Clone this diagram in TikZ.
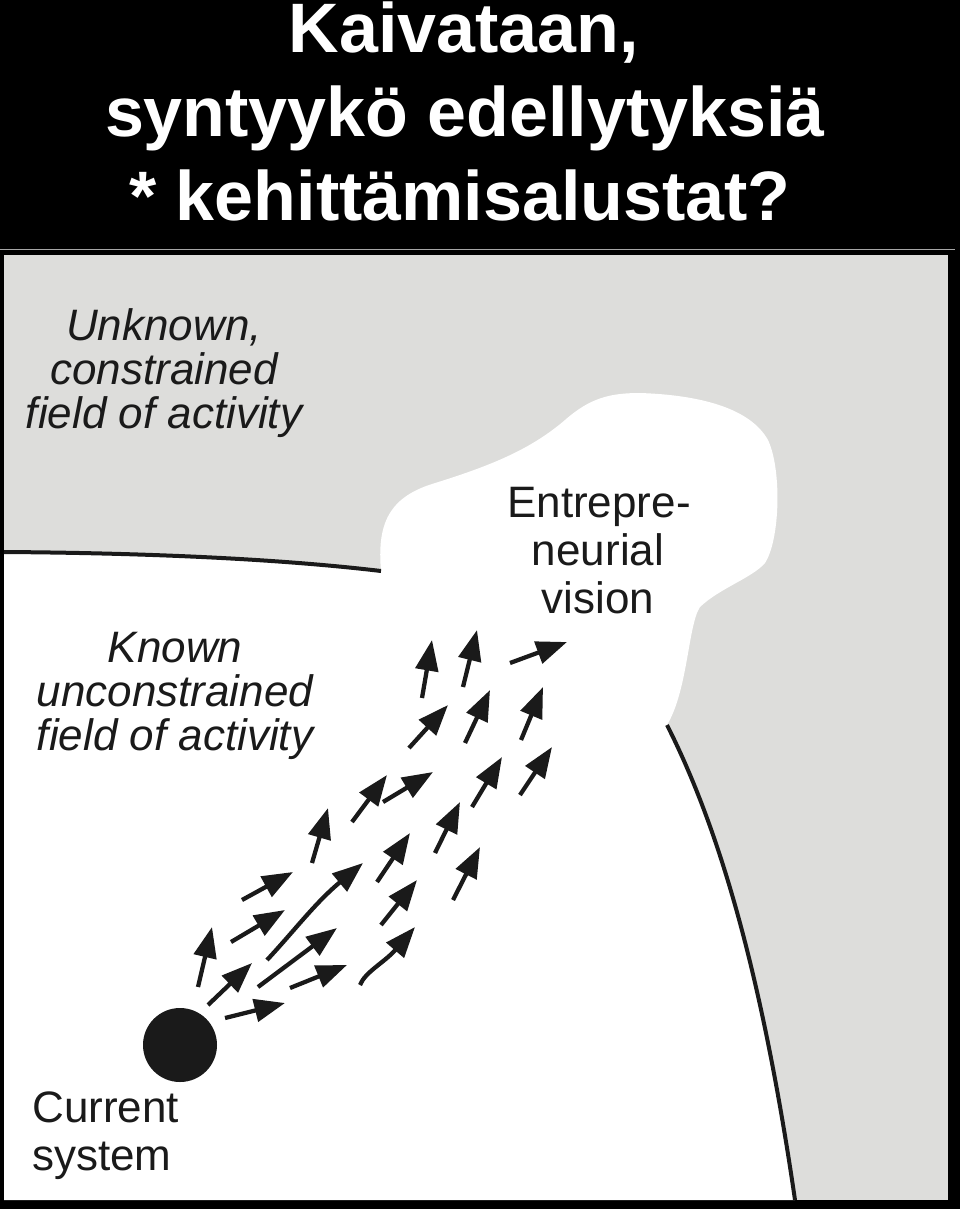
\documentclass[tikz,border=0pt]{standalone}
\usepackage{fontspec}
\setmainfont{Liberation Sans}
\usetikzlibrary{arrows.meta}
\definecolor{panelgray}{RGB}{221,221,219}
\definecolor{ink}{RGB}{26,26,26}
\begin{document}
\begin{tikzpicture}[x=0.75pt,y=-0.75pt,
  arr/.style={line width=3.2pt, draw=ink, -{Triangle[length=23pt 0,width=17pt 0]}},
  bound/.style={line width=3pt, draw=ink},
  lbl/.style={anchor=base, inner sep=0pt, text=ink, font=\fontsize{33}{33}\selectfont},
  ilbl/.style={anchor=base, inner sep=0pt, text=ink, font=\fontsize{33}{33}\selectfont\itshape},
  ttl/.style={anchor=base, inner sep=0pt, text=white, font=\fontsize{52.5}{52.5}\selectfont\bfseries}]
\useasboundingbox (0,0) rectangle (960,1209);
\fill[black] (0,0) rectangle (960,1209);
\draw[gray!70, line width=0.75pt] (0,249) -- (955,249);
\fill[panelgray] (4,255) rectangle (948,1200);
% known field + vision blob
\fill[white] (4,552) .. controls (150,553) and (280,559) .. (381,571)
  .. controls (377,525) and (388,498) .. (432,484)
  .. controls (490,466) and (530,450) .. (565,420)
  .. controls (590,398) and (610,393) .. (640,393)
  .. controls (700,395) and (750,408) .. (768,440)
  .. controls (782,470) and (780,540) .. (765,563)
  .. controls (752,578) and (720,588) .. (700,607)
  .. controls (688,625) and (688,690) .. (667,725)
  .. controls (715,820) and (760,960) .. (795,1200) -- (4,1200) -- cycle;
\coordinate (bl1) at (4,552);
\coordinate (bl2) at (381,571);
\coordinate (br1) at (667,725);
\coordinate (br2) at (795,1200);
\draw[bound] (bl1) .. controls (150,553) and (280,559) .. (bl2);
\draw[bound] (br1) .. controls (715,820) and (760,960) .. (br2);
% title
\node[ttl] (t1) at (464,53) {Kaivataan,};
\node[ttl] (t2) at (465,137) {syntyykö edellytyksiä};
\node[ttl] (t3) at (460,220) {* kehittämisalustat?};
% labels
\node[ilbl] (u1) at (164,340) {Unknown,};
\node[ilbl] (u2) at (164,384) {constrained};
\node[ilbl] (u3) at (164,428) {field of activity};
\node[ilbl] (k1) at (175,662) {Known};
\node[ilbl] (k2) at (175,706) {unconstrained};
\node[ilbl] (k3) at (175,750) {field of activity};
\node[lbl] (v1) at (599,517) {Entrepre-};
\node[lbl] (v2) at (598,565) {neurial};
\node[lbl] (v3) at (598,613) {vision};
\node[lbl, anchor=base west] (c1) at (32,1122) {Current};
\node[lbl, anchor=base west] (c2) at (32,1170) {system};
\node[circle, fill=ink, inner sep=0pt, minimum size=55.5pt] (cur) at (180,1045) {};
% arrows
\foreach \i/\ax/\ay/\bx/\by in {1/422/698/432/640, 2/463/687/477/630, 3/510/663/567/642,
  4/409/748/448/705, 5/465/743/490/690, 6/521/740/543/687, 7/352/822/387/775,
  8/383/802/433/772, 9/472/807/502/757, 10/520/795/552/747, 11/312/863/328/808,
  12/435/853/460/802, 13/377/882/410/833, 14/453/900/480/847, 15/242/900/293/872,
  16/231/942/285/910, 18/381/925/417/880, 19/198/987/212/927,
  20/208/1005/252/963, 21/258/987/337/928, 22/290/988/347/965, 24/225/1018/285/1003}{
  \coordinate (s\i) at (\ax,\ay);
  \coordinate (e\i) at (\bx,\by);
  \draw[arr] (s\i) -- (e\i);
}
\coordinate (s17) at (267,960);
\coordinate (e17) at (363,863);
\draw[arr] (s17) .. controls (295,930) and (315,903) .. (e17);
\coordinate (s23) at (360,985);
\coordinate (e23) at (415,927);
\draw[arr] (s23) .. controls (365,972) and (385,962) .. (e23);
\end{tikzpicture}
\end{document}
